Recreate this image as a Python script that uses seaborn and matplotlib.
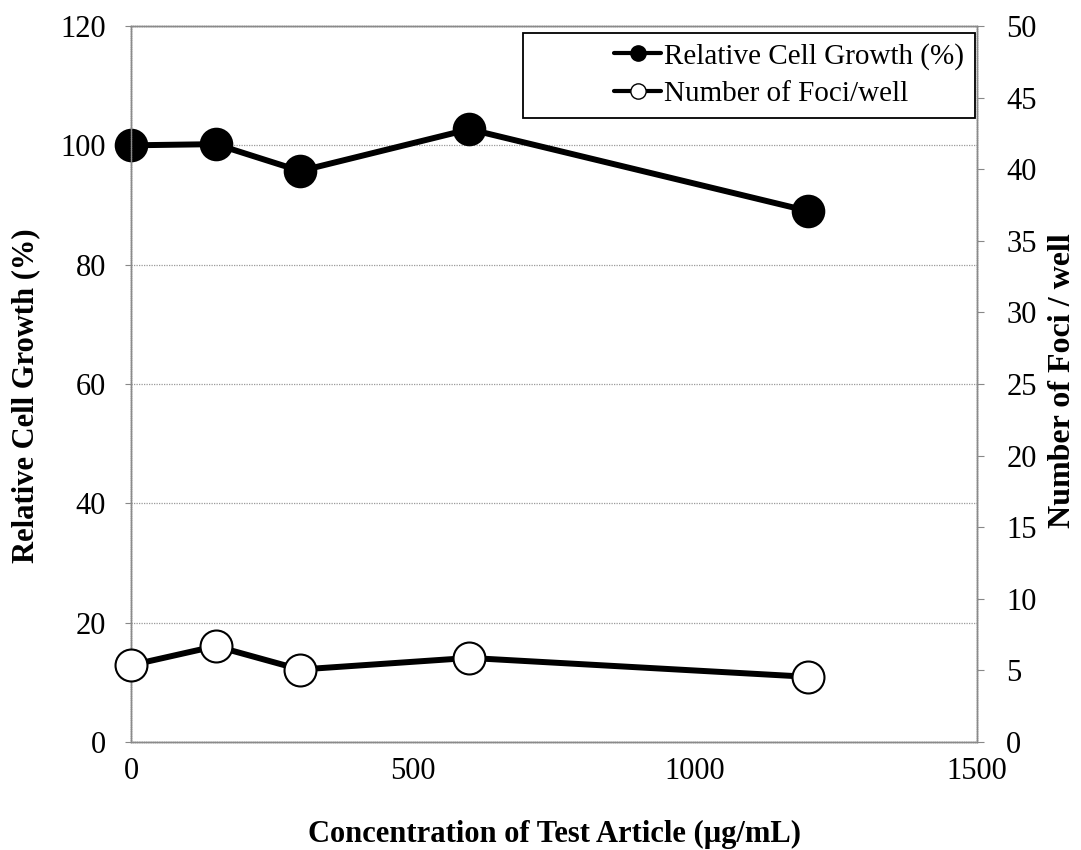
import matplotlib
matplotlib.use("Agg")
import matplotlib.pyplot as plt
from matplotlib.lines import Line2D
from matplotlib.patches import Rectangle
import seaborn as sns
import pandas as pd

# Concentrations and measured responses
concentration = [0, 150, 300, 600, 1200]
relative_growth = [100.0, 100.2, 95.7, 102.7, 89.0]
foci_per_well = [5.36, 6.69, 5.06, 5.87, 4.55]

x_ticks = [0, 500, 1000, 1500]
left_ticks = [0, 20, 40, 60, 80, 100, 120]
right_ticks = [0, 5, 10, 15, 20, 25, 30, 35, 40, 45, 50]

growth_label = "Relative Cell Growth (%)"
foci_label = "Number of Foci/well"

sns.set_style("white")
plt.rcParams["font.family"] = ["Liberation Serif", "DejaVu Serif"]
plt.rcParams["text.color"] = "black"
plt.rcParams["axes.labelcolor"] = "black"

df = pd.DataFrame({"conc": concentration, "growth": relative_growth, "foci": foci_per_well})

fig = plt.figure(figsize=(10.81, 8.5), dpi=100)
ax = fig.add_axes([0.1212, 0.1271, 0.7826, 0.8423])
ax2 = ax.twinx()

sns.lineplot(data=df, x="conc", y="growth", ax=ax, color="black", lw=4.3,
             marker="o", markersize=23, markerfacecolor="black",
             markeredgecolor="black", markeredgewidth=1.2, zorder=3,
             clip_on=False)
sns.lineplot(data=df, x="conc", y="foci", ax=ax2, color="black", lw=4.3,
             marker="o", markersize=23, markerfacecolor="white",
             markeredgecolor="black", markeredgewidth=1.5, zorder=3,
             clip_on=False)

ax.set_xlim(0, 1500)
ax.set_ylim(0, 120)
ax2.set_ylim(0, 50)
ax.set_xticks(x_ticks)
ax.set_yticks(left_ticks)
ax2.set_yticks(right_ticks)

tick_fs = 22
ax.tick_params(axis="x", labelsize=tick_fs, length=0, pad=11,
               labelcolor="black")
ax.tick_params(axis="y", labelsize=tick_fs, direction="out", length=4,
               width=0.8, color="#888888", pad=14, left=True,
               labelcolor="black")
ax2.tick_params(axis="y", labelsize=tick_fs, direction="out", length=5,
                width=0.8, color="#888888", pad=16, right=True,
                labelcolor="black")

ax.yaxis.grid(True, color="#9a9a9a", linestyle=(0, (1, 1)), linewidth=0.9)
ax.xaxis.grid(False)
ax2.grid(False)

for a in (ax, ax2):
    for side in ("left", "right", "top", "bottom"):
        a.spines[side].set_visible(True)
        a.spines[side].set_color("#8a8a8a")
        a.spines[side].set_linewidth(1.0)
        a.spines[side].set_linestyle((0, (1, 0.6)))

ax.set_xlabel("Concentration of Test Article (\u00b5g/mL)", fontsize=22,
              fontweight="bold", labelpad=24, color="black")
ax.set_ylabel(growth_label, fontsize=22, fontweight="bold", color="black")
ax.yaxis.set_label_coords(-0.1076, 0.483)
ax2.set_ylabel("Number of Foci / well", fontsize=23, fontweight="bold",
               color="black")
ax2.yaxis.set_label_coords(1.0845, 0.505)

# Legend box drawn as a separate frame so the entries sit towards its right edge
box = Rectangle((0.4634, 0.8715), 0.5342, 0.1185, transform=ax2.transAxes,
                facecolor="white", edgecolor="black", linewidth=1.3,
                zorder=9, clip_on=False)
ax2.add_patch(box)

handles = [
    Line2D([], [], color="black", lw=3, marker="o", markersize=11,
           markerfacecolor="black", markeredgecolor="black"),
    Line2D([], [], color="black", lw=3, marker="o", markersize=11,
           markerfacecolor="white", markeredgecolor="black"),
]
leg = ax2.legend(handles, [growth_label, foci_label], loc="upper right",
                 bbox_to_anchor=(0.995, 0.989), fontsize=21, frameon=False,
                 handlelength=1.6, handletextpad=0.1, borderpad=0.3,
                 labelspacing=0.38, borderaxespad=0)
for t in leg.get_texts():
    t.set_color("black")
leg._legend_box.align = "left"
leg.set_zorder(10)

fig.savefig("out.png", dpi=100, facecolor="white")
